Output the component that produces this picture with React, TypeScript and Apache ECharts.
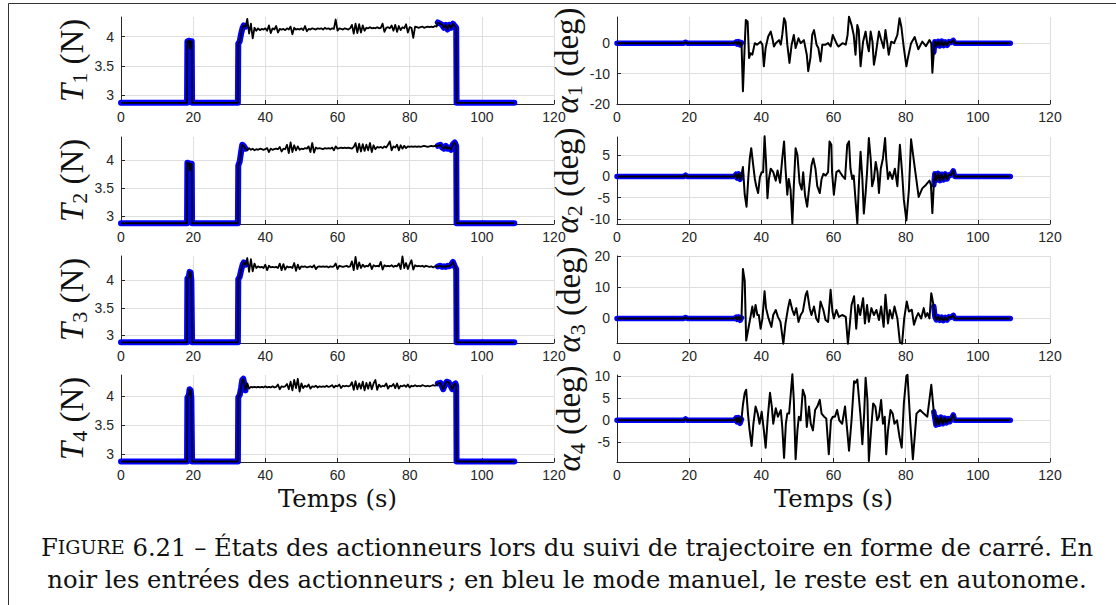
import React, { useEffect, useRef } from "react";
import * as echarts from "echarts";

// ---------- data ----------
const X_TICKS_MAX = 120;
const MANUAL_END = 34.5; // end of first manual (blue) window, s
const MANUAL_START = 87.8; // start of second manual (blue) window, s

const AUTO_T = [35,35.5,36,36.5,37,37.5,38,38.5,39,39.5,40,40.5,41,41.5,42,42.5,43,43.5,44,44.5,45,45.5,46,46.5,47,47.5,48,48.5,49,49.5,50,50.5,51,51.5,52,52.5,53,53.5,54,54.5,55,55.5,56,56.5,57,57.5,58,58.5,59,59.5,60,60.5,61,61.5,62,62.5,63,63.5,64,64.5,65,65.5,66,66.5,67,67.5,68,68.5,69,69.5,70,70.5,71,71.5,72,72.5,73,73.5,74,74.5,75,75.5,76,76.5,77,77.5,78,78.5,79,79.5,80,80.5,81,81.5,82,82.5,83,83.5,84,84.5,85,85.5,86,86.5,87,87.5];

const T1_START = [[0,2.875],[18.3,2.875],[18.4,3.92],[18.9,3.93],[19.1,3.8],[19.3,3.92],[19.6,3.92],[19.7,2.875],[32.4,2.875],[32.5,3.88],[32.9,3.92],[33.3,4.05],[33.7,4.15],[34,4.19],[34.5,4.17]];
const T1_AUTO = [4.30,4.05,4.22,3.97,4.15,4.10,4.14,4.11,4.13,4.12,
  4.14,4.10,4.19,4.06,4.14,4.12,4.18,4.07,4.13,4.12,
  4.13,4.11,4.14,4.12,4.17,4.04,4.15,4.12,4.13,4.12,
  4.14,4.11,4.18,4.09,4.13,4.12,4.14,4.13,4.12,4.14,
  4.13,4.14,4.12,4.15,4.13,4.14,4.12,4.14,4.13,4.29,
  4.10,4.14,4.13,4.12,4.14,4.13,4.12,4.14,4.20,4.05,
  4.22,4.06,4.21,4.07,4.19,4.10,4.15,4.14,4.16,4.14,
  4.15,4.14,4.16,4.14,4.15,4.22,4.08,4.15,4.16,4.14,
  4.19,4.10,4.20,4.08,4.18,4.11,4.16,4.14,4.21,4.07,
  4.16,4.15,3.98,4.17,4.16,4.15,4.16,4.17,4.15,4.16,
  4.17,4.16,4.17,4.16,4.18,4.17];
const T1_END = [[87.8,4.24],[88.5,4.22],[89,4.2],[89.5,4.15],[90,4.2],[90.5,4.12],[91,4.2],[91.5,4.15],[92,4.22],[92.5,4.18],[92.9,4.15],[93,2.875],[109,2.875]];

const T2_START = [[0,2.875],[18.3,2.875],[18.4,3.95],[18.9,3.94],[19.1,3.82],[19.3,3.93],[19.6,3.93],[19.7,2.875],[32.4,2.875],[32.5,3.9],[32.9,3.97],[33.3,4.15],[33.6,4.27],[34,4.25],[34.5,4.2]];
const T2_AUTO = [4.17,4.21,4.18,4.20,4.17,4.19,4.18,4.20,4.19,4.18,
  4.19,4.21,4.14,4.20,4.18,4.19,4.20,4.19,4.23,4.15,
  4.20,4.19,4.27,4.12,4.31,4.14,4.26,4.17,4.24,4.18,
  4.20,4.19,4.21,4.20,4.24,4.14,4.30,4.13,4.22,4.20,
  4.21,4.20,4.19,4.21,4.20,4.21,4.20,4.22,4.17,4.24,
  4.20,4.21,4.22,4.21,4.22,4.21,4.22,4.21,4.20,4.23,
  4.30,4.14,4.29,4.15,4.28,4.16,4.27,4.17,4.30,4.14,
  4.26,4.19,4.23,4.22,4.23,4.21,4.24,4.22,4.27,4.33,
  4.17,4.24,4.22,4.27,4.17,4.26,4.20,4.25,4.21,4.24,
  4.23,4.24,4.23,4.24,4.23,4.24,4.23,4.24,4.25,4.24,
  4.23,4.24,4.25,4.24,4.25,4.24];
const T2_END = [[87.8,4.25],[88.5,4.27],[89,4.22],[89.5,4.2],[90,4.25],[90.5,4.2],[91,4.22],[91.5,4.18],[92,4.28],[92.5,4.31],[92.9,4.25],[93,2.875],[109,2.875]];

const T3_START = [[0,2.875],[18.3,2.875],[18.4,4.03],[18.8,4.05],[19.0,4.15],[19.3,4.14],[19.5,4.0],[19.6,4.0],[19.7,2.875],[32.4,2.875],[32.5,4.02],[32.9,4.06],[33.3,4.18],[33.7,4.28],[34,4.32],[34.5,4.28]];
const T3_AUTO = [4.40,4.15,4.38,4.16,4.30,4.22,4.25,4.23,4.24,4.22,
  4.28,4.18,4.26,4.23,4.24,4.23,4.24,4.22,4.30,4.18,
  4.29,4.19,4.25,4.23,4.24,4.22,4.31,4.17,4.28,4.20,
  4.25,4.24,4.25,4.23,4.24,4.25,4.23,4.27,4.20,4.24,
  4.25,4.24,4.25,4.24,4.25,4.23,4.25,4.24,4.25,4.30,
  4.20,4.26,4.25,4.24,4.25,4.26,4.24,4.25,4.34,4.18,
  4.42,4.20,4.32,4.22,4.28,4.24,4.26,4.25,4.30,4.20,
  4.27,4.25,4.26,4.25,4.33,4.19,4.27,4.25,4.26,4.25,
  4.27,4.24,4.26,4.25,4.30,4.20,4.43,4.22,4.31,4.20,
  4.29,4.36,4.19,4.27,4.25,4.26,4.25,4.26,4.24,4.26,
  4.25,4.24,4.25,4.23,4.25,4.24];
const T3_END = [[87.8,4.25],[88.5,4.26],[89,4.24],[89.5,4.25],[90,4.24],[90.5,4.26],[91,4.25],[91.5,4.28],[92,4.33],[92.5,4.25],[92.9,4.2],[93,2.875],[109,2.875]];

const T4_START = [[0,2.875],[18.3,2.875],[18.4,3.98],[18.8,4.02],[19.0,4.12],[19.3,4.1],[19.5,3.98],[19.6,3.98],[19.7,2.875],[32.4,2.875],[32.5,3.98],[32.9,4.02],[33.3,4.15],[33.6,4.28],[33.9,4.3],[34.2,4.2],[34.5,4.1]];
const T4_AUTO = [4.22,4.13,4.16,4.15,4.16,4.15,4.16,4.15,4.16,4.15,
  4.17,4.15,4.16,4.15,4.17,4.15,4.16,4.20,4.12,4.17,
  4.16,4.17,4.21,4.12,4.25,4.10,4.28,4.14,4.30,4.08,
  4.22,4.14,4.18,4.16,4.20,4.13,4.17,4.16,4.18,4.15,
  4.17,4.16,4.17,4.16,4.18,4.16,4.17,4.19,4.15,4.18,
  4.17,4.20,4.14,4.18,4.17,4.18,4.17,4.18,4.24,4.11,
  4.26,4.12,4.22,4.13,4.25,4.10,4.23,4.13,4.24,4.12,
  4.22,4.28,4.11,4.20,4.16,4.18,4.17,4.22,4.13,4.18,
  4.17,4.21,4.14,4.22,4.13,4.18,4.17,4.19,4.16,4.20,
  4.15,4.18,4.17,4.19,4.17,4.18,4.17,4.19,4.18,4.17,
  4.18,4.17,4.18,4.19,4.18,4.19];
const T4_END = [[87.8,4.22],[88.5,4.23],[89,4.16],[89.3,4.12],[89.8,4.2],[90.3,4.25],[90.8,4.24],[91.3,4.18],[91.8,4.12],[92.3,4.2],[92.7,4.22],[92.9,4.18],[93,2.875],[109,2.875]];

const ALPHA1 = [[0,0],[18.5,0],[19,0.3],[19.5,0],[32.5,0],[33,0.4],[33.3,-0.3],[33.7,0.5],[34.1,-0.6],[34.5,0.2],
  [34.9,-15.8],[35.4,-0.5],[35.7,7.6],[36.2,7.1],[36.6,-4.9],[37,-3.3],[37.5,-3.8],[38.2,0],[38.8,-0.5],[39.8,0.5],[40.3,-0.5],[40.7,-7.6],[41.2,-1.5],[41.9,2.2],[42.6,3.8],[43.1,1.4],[43.5,-1.1],[44,0],[44.9,1],[45.4,-0.5],[45.8,2.7],[46.3,8.2],[46.7,7],[47.2,-0.5],[47.8,-6.5],[48.4,-0.5],[49,2.7],[49.5,-1.6],[50.3,1.6],[50.9,0],[51.8,1],[52.6,-3.8],[53,-9.2],[53.6,-4.9],[54.1,2.7],[54.6,4.3],[55.3,-0.5],[55.8,-1.6],[56.4,-6],[56.9,-0.5],[57.8,-0.5],[58.5,0],[59.2,-1.1],[59.8,2.7],[60.4,1.1],[61,-0.5],[61.4,-1.1],[62.5,0],[63.4,-0.5],[63.9,2.7],[64.3,8.7],[65,6],[65.6,2.7],[66.1,-3.8],[66.6,6],[67,4.3],[67.5,-7.6],[68.2,0.5],[68.9,3.8],[69.4,-0.5],[69.8,-2.7],[70.3,3.8],[70.8,0.5],[71.2,-7.1],[71.7,-3.8],[72.2,0.5],[72.6,3.8],[73.1,1.6],[73.9,-1.6],[74.4,4.3],[74.9,0],[75.3,-3.8],[76,0.5],[76.8,0],[77.7,2.7],[78.3,8.2],[78.8,5.4],[79.5,-1.6],[80.2,-7.6],[80.6,-5],[81.5,0],[82.5,2],[83.5,-2],[84.6,0.5],[85.6,-1],[86.6,1],[87.1,0],[87.4,-9.7],[87.8,-3],[88.1,0.5],
  [88.5,-0.8],[89,0.6],[89.5,-0.9],[90,0.7],[90.5,-0.8],[91,0.4],[91.5,-0.7],[92,0.5],[92.5,0.2],[93.2,0.9],[93.6,0],[109,0]];

const ALPHA2 = [[0,0],[18.5,0],[19,0.3],[19.5,0],[32.5,0],[33,0.5],[33.3,-0.4],[33.7,0.6],[34.1,-0.7],[34.5,0.3],
  [34.9,2.2],[35.4,-4.3],[35.9,-7.1],[36.4,-0.2],[36.8,4.2],[37.2,6.6],[37.7,3],[38.2,-0.6],[38.6,-2.3],[39.1,-3.9],[39.6,-0.2],[40.1,1],[40.5,1],[40.9,9.4],[41.3,3.4],[41.7,-5.1],[42.1,-0.6],[42.6,1.8],[43.3,1],[44,-1],[44.5,1.4],[45.2,-1.5],[45.8,4.2],[46.3,8.2],[46.7,1.8],[47.2,-4.3],[47.6,-0.6],[48.1,-3.1],[48.6,-11],[49,-2.3],[49.5,6.6],[50,5],[50.6,-1.5],[51.2,-3.1],[51.6,1],[52.1,-4.3],[52.7,-7.1],[53.3,-2.3],[53.9,2.6],[54.4,4.2],[55,1.8],[55.5,-2.3],[56.2,-3.9],[56.7,-0.6],[57.2,0.6],[57.8,0.2],[58.5,1],[58.9,8.2],[59.4,7.4],[59.6,1],[60.1,-4.3],[60.8,1],[61.5,1.4],[62.4,0.2],[63.2,-0.6],[63.8,7.4],[64.3,8.2],[64.7,1.8],[65.2,-0.6],[65.6,0.2],[66.1,-5.5],[66.6,-11],[67.1,-0.6],[67.5,5.8],[68,-0.6],[68.4,-8.7],[68.9,-3.9],[69.3,1],[69.8,9],[70.3,4.2],[70.7,-2.3],[71.2,-0.6],[71.7,3.4],[72.2,1],[72.6,-3.9],[73.1,1.8],[73.7,4.2],[74.3,9],[74.6,4.2],[75.1,-0.6],[75.6,1],[76.3,-0.6],[77,1.8],[77.7,-2.3],[78.4,7.4],[79,1],[79.5,-5.5],[80.2,-10.3],[80.9,-3.1],[81.5,8.7],[82.5,2.2],[83.6,-4.8],[84.6,-2.8],[85.6,-2],[86.6,-1],[87,-2],[87.4,-8.6],[87.8,-2],[88.1,0.6],
  [88.5,-0.9],[89,0.7],[89.5,-1],[90,0.5],[90.5,-0.8],[91,0.6],[91.5,-0.6],[92,0.4],[92.5,0.3],[93.2,1.3],[93.6,0],[109,0]];

const ALPHA3 = [[0,0],[18.5,0],[19,0.3],[19.5,0],[32.5,0],[33,0.4],[33.3,-0.3],[33.7,0.5],[34.1,-0.6],[34.5,0.2],
  [34.9,15.8],[35.4,12],[35.8,-7.1],[36.4,-3.3],[37,0.5],[37.5,3.8],[37.9,0.5],[38.4,4.3],[38.9,1.1],[39.3,1.1],[39.8,-3.3],[40.3,0],[40.9,8.7],[41.3,3.3],[42,0],[42.8,-2.7],[43.3,1.1],[44,2.7],[44.6,0.5],[45.3,-1.1],[46.1,-8.1],[46.7,-1.6],[47.4,3.3],[47.9,6],[48.6,2.7],[49.1,1.1],[49.7,3.3],[50.3,-1.1],[50.9,1.1],[51.5,2.2],[52.3,7.6],[52.7,8.7],[53.4,3.3],[53.9,1.1],[54.6,3.8],[55.2,0],[55.8,-1.1],[56.4,5.4],[57.2,2.7],[57.8,-0.5],[58.5,-1.1],[59.2,9.2],[59.7,2.2],[60.1,0],[60.8,2.7],[61.5,0.5],[62.4,1.1],[63.4,0.5],[64,-8.1],[64.5,-2.2],[65,4.3],[65.7,7.1],[66.3,-3.3],[66.8,4.3],[67.4,1.1],[68.2,6.5],[68.7,-1.6],[69.3,4.3],[69.8,-1.1],[70.5,3.3],[71.2,1.1],[71.9,2.7],[72.6,-0.5],[73.2,3.8],[73.9,-2.7],[74.4,7.6],[75.1,-1.6],[75.6,2.7],[76.3,0],[76.9,3.8],[77.7,0],[78.4,-7.6],[79,-8.1],[79.6,0],[80.3,5.4],[80.9,2.2],[81.7,2.8],[82.3,-2],[83,0.5],[83.5,1.7],[84.3,0],[85,3.3],[85.5,0.5],[86,1.7],[86.6,0],[87.1,8.1],[87.8,3.8],[88.1,0.6],
  [88.5,-0.5],[89,0.6],[89.5,-0.6],[90,0.4],[90.5,-0.7],[91,0.3],[91.5,-0.5],[92,0.5],[92.5,0.3],[93.2,1],[93.6,0],[109,0]];

const ALPHA4 = [[0,0],[18.5,0],[19,0.3],[19.5,0],[32.5,0],[33,0.5],[33.3,-0.4],[33.7,0.6],[34.1,-0.7],[34.5,0.2],
  [34.9,3.5],[35.4,6.2],[35.8,6.9],[36.3,1.5],[36.7,-1.9],[37.3,-5.8],[37.8,-0.8],[38.4,3.1],[39,1.5],[39.5,-0.8],[40.1,1.9],[40.7,-2.3],[41.2,-6.2],[41.8,0.8],[42.4,6.2],[42.9,3.1],[43.3,-0.8],[44,2.7],[44.6,0.8],[45.4,2.3],[45.8,-1.5],[46.3,-8.5],[46.8,-0.8],[47.2,1.5],[47.7,1.5],[48.1,5.4],[48.6,10.4],[49,4.6],[49.5,-8.8],[50,-2.3],[50.4,0.8],[50.9,0],[51.5,6.9],[52.1,5.4],[52.6,-1.5],[53.2,3.1],[53.7,-0.8],[54.3,-2.3],[54.9,2.3],[55.5,3.1],[56.2,4.6],[56.7,1.5],[57.4,0.8],[58,0.4],[58.7,-7.7],[59.3,0],[59.8,0.8],[60.4,0.8],[61,2.3],[61.6,0],[62.4,-0.8],[63.2,3.1],[63.8,-2.3],[64.3,-6.9],[65,0],[65.7,8.8],[66.1,8.5],[66.6,9.2],[67.1,4.6],[67.5,0.8],[68,-5.4],[68.5,1.5],[68.9,9.6],[69.4,4.6],[69.8,-9.2],[70.4,-2.3],[71,3.8],[71.6,3.1],[72.1,0],[72.6,0.8],[73.2,4.6],[73.7,-0.8],[74.2,0.8],[74.6,-7.7],[75.1,-2.3],[75.8,2.3],[76.4,1.5],[76.9,-0.8],[77.6,0],[78.3,-3.8],[78.9,-6.2],[79.5,3.8],[80.2,10],[80.5,10.3],[81.3,-0.8],[82,-8.8],[82.5,-3.8],[83,1.5],[84,2.3],[85,1.5],[86,0.8],[87.1,8],[87.8,1.9],[88.4,-1.1],
  [88.8,0.6],[89.3,-0.9],[89.8,0.7],[90.3,-0.8],[90.8,0.5],[91.3,-0.6],[91.8,0.4],[92.3,-0.3],[92.7,0.4],[93.2,1.2],[93.6,0],[109,0]];

const T_TICKS = [3, 3.5, 4];
const T_MIN = [2.855, 2.862, 2.862, 2.866];
const T_MAX = [4.333, 4.407, 4.437, 4.365];
const A_TICKS = [[-20, -10, 0], [-10, -5, 0, 5], [0, 10, 20], [-5, 0, 5, 10]];
const A_MIN = [-20, -11.15, -7.87, -9.44];
const A_MAX = [8.6, 9.23, 20, 10.23];

const CAPTION_1 = "{a|F}{b|IGURE}{c| 6.21 – États des actionneurs lors du suivi de trajectoire en forme de carré. En}";
const CAPTION_2 = "noir les entrées des actionneurs\u2009; en bleu le mode manuel, le reste est en autonome.";
const X_LABEL = "Temps (s)";

// ---------- layout ----------
const ROW_TOP = [17, 137, 256, 375];
const ROW_H = 87;
const COL_LEFT = [121, 617];
const COL_W = 433;

const INK = "#262626";
const GRID = "#dfdfdf";

function buildT(start: number[][], auto: number[], end: number[][]) {
  const mid = AUTO_T.map((t, i) => [t, auto[i]]);
  return [...start, ...mid, ...end];
}

function manualOnly(data: number[][]) {
  return data.map(([t, v]) => (t <= MANUAL_END || t >= MANUAL_START ? [t, v] : [t, null]));
}

export default function App() {
  const ref = useRef<HTMLDivElement>(null);

  useEffect(() => {
    const chart = echarts.init(ref.current!, null, { renderer: "svg" });

    const tData = [
      buildT(T1_START, T1_AUTO, T1_END),
      buildT(T2_START, T2_AUTO, T2_END),
      buildT(T3_START, T3_AUTO, T3_END),
      buildT(T4_START, T4_AUTO, T4_END),
    ];
    const aData = [ALPHA1, ALPHA2, ALPHA3, ALPHA4];

    const grids: any[] = [];
    const xAxes: any[] = [];
    const yAxes: any[] = [];
    const series: any[] = [];

    const labelStyle = { fontFamily: "Liberation Sans", fontSize: 14, color: INK };
    const nameRich = {
      i: { fontFamily: "Liberation Serif", fontStyle: "italic", fontSize: 33, lineHeight: 38, color: "#111" },
      s: { fontFamily: "Liberation Serif", fontSize: 22, lineHeight: 21, verticalAlign: "bottom", color: "#111" },
      r: { fontFamily: "Liberation Serif", fontSize: 33, lineHeight: 38, color: "#111" },
    };

    for (let r = 0; r < 4; r++) {
      for (let c = 0; c < 2; c++) {
        const idx = grids.length;
        grids.push({ left: COL_LEFT[c], top: ROW_TOP[r], width: COL_W, height: ROW_H, containLabel: false, outerBoundsMode: "none" });
        xAxes.push({
          gridIndex: idx, type: "value", min: 0, max: X_TICKS_MAX, interval: 20,
          axisLine: { show: true, onZero: false, lineStyle: { color: INK, width: 1 } },
          axisTick: { show: true, inside: true, length: 4, lineStyle: { color: INK } },
          axisLabel: { ...labelStyle, margin: 6 },
          splitLine: { show: true, lineStyle: { color: GRID, width: 1 } },
        });
        const ticks = c === 0 ? T_TICKS : A_TICKS[r];
        const name = c === 0 ? `{i|T}{s|${r + 1}}{r| (N)}` : `{i|α}{s|${r + 1}}{r| (deg)}`;
        yAxes.push({
          gridIndex: idx, type: "value",
          min: c === 0 ? T_MIN[r] : A_MIN[r],
          max: c === 0 ? T_MAX[r] : A_MAX[r],
          axisLine: { show: true, onZero: false, lineStyle: { color: INK, width: 1 } },
          axisTick: { show: true, inside: true, length: 4, lineStyle: { color: INK }, customValues: ticks },
          axisLabel: { ...labelStyle, margin: 7, customValues: ticks, formatter: (v: number) => String(v) },
          splitLine: { show: true, lineStyle: { color: GRID, width: 1 } },
          name, nameLocation: "middle", nameRotate: 90, nameGap: 29,
          nameTextStyle: { rich: nameRich },
        });
        const data = c === 0 ? tData[r] : aData[r];
        series.push({
          type: "line", xAxisIndex: idx, yAxisIndex: idx, data: manualOnly(data),
          showSymbol: false, symbol: "none", silent: true, clip: false, connectNulls: false,
          lineStyle: { color: "#0000ff", width: c === 0 ? 6 : 5.5, cap: "round", join: "round" },
          itemStyle: { color: "#0000ff" }, z: 2,
        });
        series.push({
          type: "line", xAxisIndex: idx, yAxisIndex: idx, data,
          showSymbol: false, symbol: "none", silent: true, clip: false,
          lineStyle: { color: "#000000", width: c === 0 ? 1.8 : 2, join: "round" },
          itemStyle: { color: "#000000" }, z: 3,
        });
      }
    }

    const serif = "DejaVu Serif";
    const capSize = 24.3;
    chart.setOption({
      animation: false,
      backgroundColor: "#ffffff",
      grid: grids,
      xAxis: xAxes,
      yAxis: yAxes,
      series,
      graphic: [
        { type: "rect", silent: true, z: 0, shape: { x: 8.5, y: 3.5, width: 1300, height: 800 }, style: { fill: "none", stroke: "#333333", lineWidth: 1 } },
        { type: "text", silent: true, x: COL_LEFT[0] + COL_W / 2, y: 498, style: { text: X_LABEL, fontFamily: serif, fontSize: capSize, fill: "#111", align: "center", verticalAlign: "middle" } },
        { type: "text", silent: true, x: COL_LEFT[1] + COL_W / 2, y: 498, style: { text: X_LABEL, fontFamily: serif, fontSize: capSize, fill: "#111", align: "center", verticalAlign: "middle" } },
        {
          type: "text", silent: true, x: 567, y: 547,
          style: {
            text: CAPTION_1, fontFamily: serif, fontSize: capSize, fill: "#111", align: "center", verticalAlign: "middle",
            rich: {
              a: { fontFamily: serif, fontSize: capSize, fill: "#111", color: "#111" },
              b: { fontFamily: serif, fontSize: Math.round(capSize * 0.78), fill: "#111", color: "#111" },
              c: { fontFamily: serif, fontSize: capSize, fill: "#111", color: "#111" },
            },
          },
        },
        { type: "text", silent: true, x: 567, y: 579, style: { text: CAPTION_2, fontFamily: serif, fontSize: capSize, fill: "#111", align: "center", verticalAlign: "middle" } },
      ],
    });

    return () => chart.dispose();
  }, []);

  return <div ref={ref} style={{ position: "absolute", left: 0, top: 0, width: 1116, height: 605, background: "#fff" }} />;
}
